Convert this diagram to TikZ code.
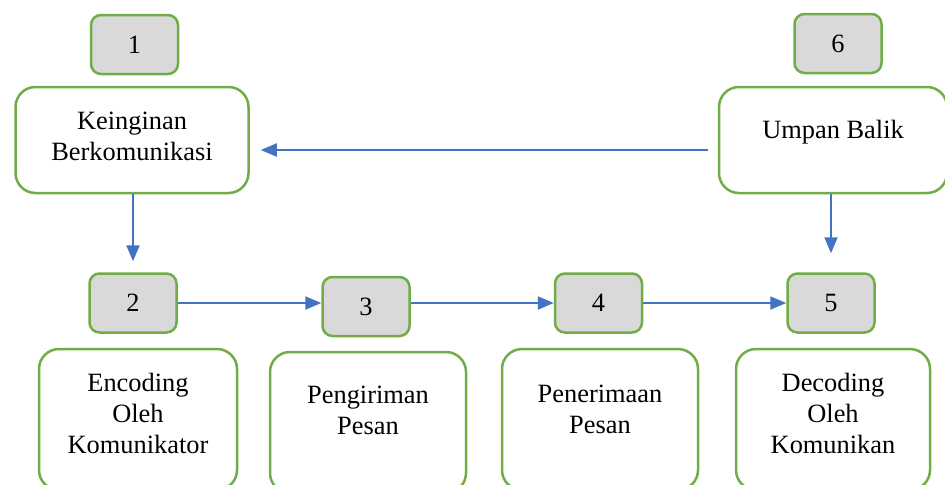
\documentclass[tikz,border=0pt]{standalone}
\usepackage{fontspec}
\setmainfont{Liberation Serif}
\usepackage{tikz}
\usetikzlibrary{arrows.meta}

\definecolor{boxgreen}{HTML}{70AD47}
\definecolor{numgray}{HTML}{D9D9D9}
\definecolor{arrblue}{HTML}{4472C4}

\begin{document}
\begin{tikzpicture}[
    x=0.5pt,y=-0.5pt,
    every node/.style={font=\fontsize{13.2}{15.5}\selectfont},
    numbox/.style ={rectangle,rounded corners=5pt,draw=boxgreen,line width=1.25pt,
                    fill=numgray,minimum width=43.5pt,minimum height=29.5pt},
    stagebox/.style={rectangle,rounded corners=10pt,draw=boxgreen,line width=1.25pt,
                    fill=white,align=center},
    arr/.style={-{Triangle[length=8pt,width=6.5pt]},arrblue,line width=1pt},
  ]
  \useasboundingbox (0,0) rectangle (945,484);

  % Top row: number tags
  \node[numbox] (N1) at (134.5, 44.5) {1};
  \node[numbox] (N6) at (838, 43.5) {6};

  % Top row: stage boxes
  \node[stagebox,minimum width=116.5pt,minimum height=53pt,text depth=4pt] (KB) at (132,140)
       {Keinginan\\Berkomunikasi};
  \node[stagebox,minimum width=114pt,minimum height=53pt,text depth=11pt] (UB) at (833,140)
       {Umpan Balik};

  % Middle row: number tags
  \node[numbox] (N2) at (133,303) {2};
  \node[numbox] (N3) at (366,306.5) {3};
  \node[numbox] (N4) at (598.5,303) {4};
  \node[numbox] (N5) at (831,303) {5};

  % Bottom row: stage boxes (run past the lower edge)
  \node[stagebox,minimum width=99pt,minimum height=70.5pt,text depth=6pt] (EK) at (138,419.5)
       {Encoding\\Oleh\\Komunikator};
  \node[stagebox,minimum width=98pt,minimum height=70.5pt,text depth=12pt] (PP) at (368,422.5)
       {Pengiriman\\Pesan};
  \node[stagebox,minimum width=98pt,minimum height=70.5pt,text depth=10pt] (PN) at (600,419.5)
       {Penerimaan\\Pesan};
  \node[stagebox,minimum width=97pt,minimum height=70.5pt,text depth=6pt] (DK) at (833,419.5)
       {Decoding\\Oleh\\Komunikan};

  % Feedback and flow arrows
  \draw[arr,shorten <=5pt,shorten >=5.5pt] ([yshift=-5pt]UB.west) -- ([yshift=-5pt]KB.east);
  \draw[arr,shorten >=5.5pt] (KB.south -| N2.north) -- (N2.north);
  \draw[arr,shorten >=9.5pt] (UB.south -| N5.north) -- (N5.north);
  \draw[arr] (N2.east) -- (N2.east -| N3.west);
  \draw[arr] (N3.east |- N4.west) -- (N4.west);
  \draw[arr] (N4.east) -- (N5.west);
\end{tikzpicture}
\end{document}
